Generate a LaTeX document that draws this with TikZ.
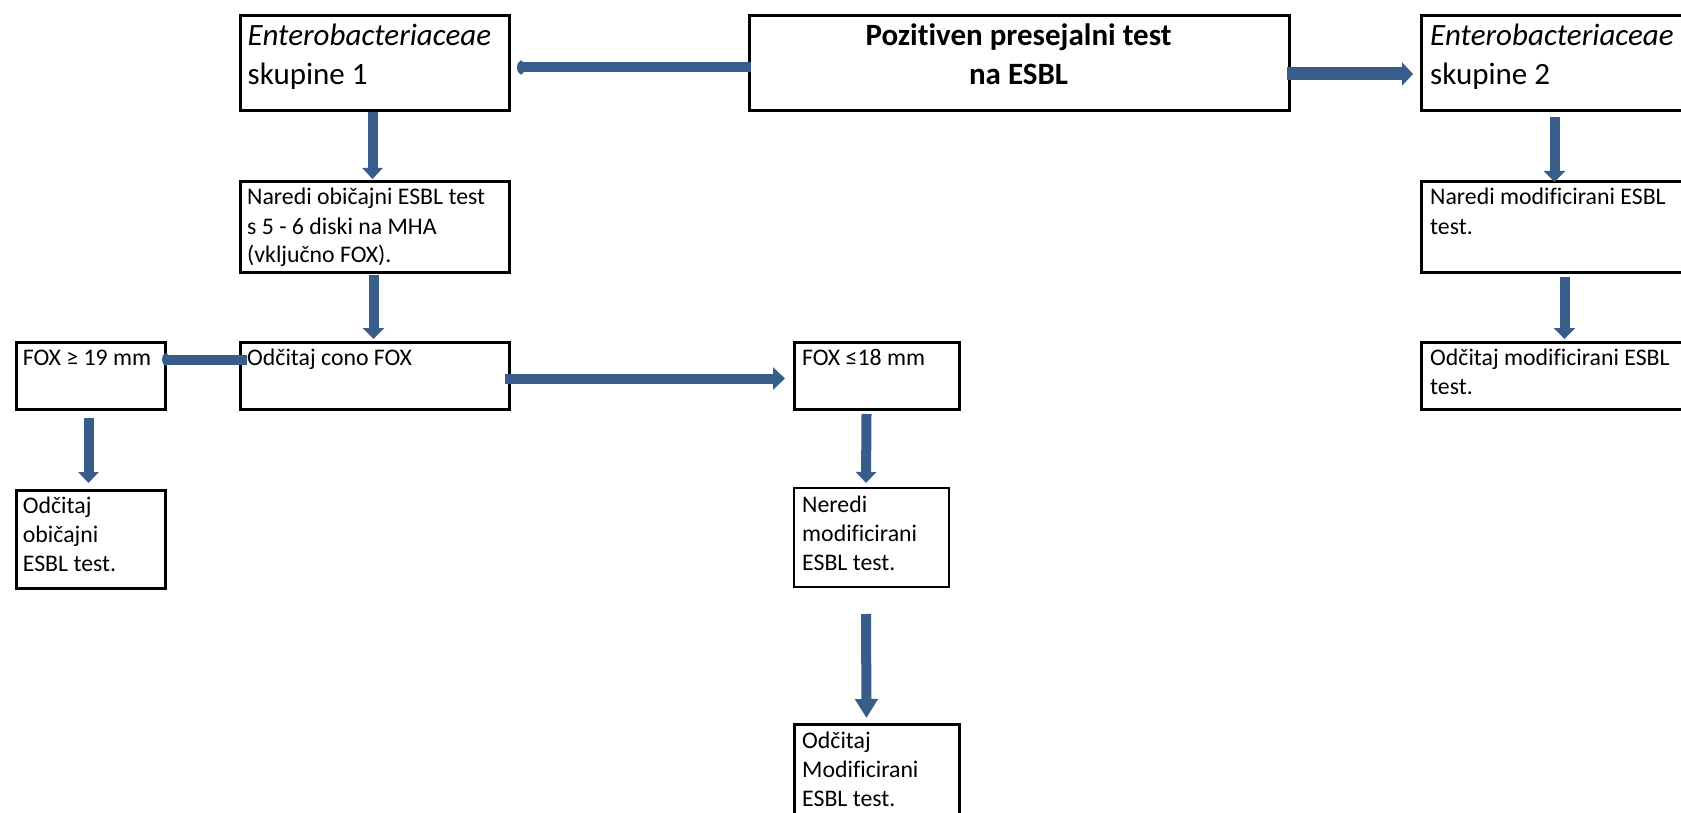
\documentclass[tikz,border=0pt]{standalone}
\usepackage{fontspec}
\setmainfont{Carlito}[Ligatures=NoCommon]
\usetikzlibrary{arrows.meta}
\definecolor{arrblue}{HTML}{385D8A}
\newcommand{\leftlines}[1]{\begin{tabular}[t]{@{}l@{}}#1\end{tabular}}
\newcommand{\midlines}[1]{\begin{tabular}[t]{@{}c@{}}#1\end{tabular}}
\begin{document}
\begin{tikzpicture}[x=1pt,y=-1pt,
  box/.style={draw=black, line width=3pt, inner sep=0pt, anchor=north west},
  smalltxt/.style={anchor=base west, inner sep=0pt,
                   font=\fontsize{23.8}{29}\selectfont},
  bigtxt/.style={anchor=base west, inner sep=0pt,
                 font=\fontsize{31}{38.5}\selectfont},
  conn/.style={draw=arrblue, line width=10pt, -{Triangle[width=20pt,length=11pt]}},
  connround/.style={draw=arrblue, line width=10pt, -{Circle[length=8pt,width=13pt]}}
]
\useasboundingbox (0,0) rectangle (1681,813);
\fill[white] (0,0) rectangle (1681,813);

% boxes
\node[box, minimum width=269pt, minimum height=95pt] (A) at (238.5,14.5) {};
\node[box, minimum width=540pt, minimum height=95pt] (P) at (747.5,14.5) {};
\node[box, minimum width=300.5pt, minimum height=95pt] (C) at (1419.5,14.5) {};
\node[box, minimum width=269pt, minimum height=90pt] (B) at (238.5,180.5) {};
\node[box, minimum width=300.5pt, minimum height=90pt] (D) at (1419.5,180.5) {};
\node[box, minimum width=149pt, minimum height=67pt] (F) at (14.5,340.5) {};
\node[box, minimum width=269pt, minimum height=67pt] (G) at (238.5,340.5) {};
\node[box, minimum width=165pt, minimum height=67pt] (H) at (792.5,340.5) {};
\node[box, minimum width=300.5pt, minimum height=67pt] (E) at (1419.5,340.5) {};
\node[box, minimum width=149pt, minimum height=98pt] (I) at (14.5,488.5) {};
\node[box, line width=2pt, minimum width=155pt, minimum height=99pt] (J) at (793,487) {};
\node[box, minimum width=165pt, minimum height=120pt] (K) at (792.5,722.5) {};

% texts
\node[bigtxt] (tA) at (247.5,46) {\leftlines{\textit{Enterobacteriaceae}\\skupine 1}};
\node[bigtxt, anchor=base, font=\fontsize{31}{38.5}\selectfont\bfseries] (tP) at (1018.5,46) {\midlines{Pozitiven presejalni test\\na ESBL}};
\node[bigtxt] (tC) at (1430,46) {\leftlines{\textit{Enterobacteriaceae}\\skupine 2}};
\node[smalltxt] (tB) at (247,205) {\leftlines{Naredi običajni ESBL test\\s 5 - 6 diski na MHA\\(vključno FOX).}};
\node[smalltxt] (tD) at (1430,205) {\leftlines{Naredi modificirani ESBL\\test.}};
\node[smalltxt] (tF) at (22.7,365) {FOX ≥ 19 mm};
\node[smalltxt] (tG) at (247,365) {Odčitaj cono FOX};
\node[smalltxt] (tH) at (802,365) {FOX ≤18 mm};
\node[smalltxt] (tE) at (1430,365) {\leftlines{Odčitaj modificirani ESBL\\test.}};
\node[smalltxt] (tI) at (22.7,513) {\leftlines{Odčitaj\\običajni\\ESBL test.}};
\node[smalltxt] (tJ) at (802,512) {\leftlines{Neredi\\modificirani\\ESBL test.}};
\node[smalltxt] (tK) at (802,748) {\leftlines{Odčitaj\\Modificirani\\ESBL test.}};

% connectors
\draw[connround] ([shift={(3,4)}]P.west) -- ([shift={(6.5,4)}]A.east);
\draw[conn, line width=13pt, -{Triangle[width=23pt,length=11pt]}] ([shift={(-3.5,10.5)}]P.east) -- ([shift={(-6.5,10.5)}]C.west);
\draw[conn] ([shift={(-2,0)}]A.south) -- ([shift={(-2,-1.5)}]B.north);
\draw[conn, -{Triangle[width=21pt,length=11pt]}] ([shift={(-1,1)}]B.south) -- ([shift={(-1,-1.5)}]G.north);
\draw[connround, -{Circle[length=8pt,width=12pt]}] ([shift={(8.5,-16)}]G.west) -- ([shift={(-4.5,-16)}]F.east);
\draw[conn, -{Triangle[width=22pt,length=12pt]}] ([shift={(-5.5,3)}]G.east) -- ([shift={(-7.5,3)}]H.west);
\draw[conn] ([shift={(-2,7.5)}]F.south) -- ([shift={(-2,-5.5)}]I.north);
\draw[conn] ([shift={(-10,3.5)}]H.south) -- ([shift={(-5.5,-4)}]J.north);
\draw[conn, -{Triangle[width=22pt,length=19pt]}] ([shift={(-5.5,26)}]J.south) -- ([shift={(-10,-4.5)}]K.north);
\draw[conn, -{Triangle[width=21pt,length=11pt]}] ([shift={(-16.75,4.5)}]C.south) -- ([shift={(-16.75,1.5)}]D.north);
\draw[conn, -{Triangle[width=21pt,length=11pt]}] ([shift={(-6.75,3.5)}]D.south) -- ([shift={(-6.75,-1.5)}]E.north);
\end{tikzpicture}
\end{document}
